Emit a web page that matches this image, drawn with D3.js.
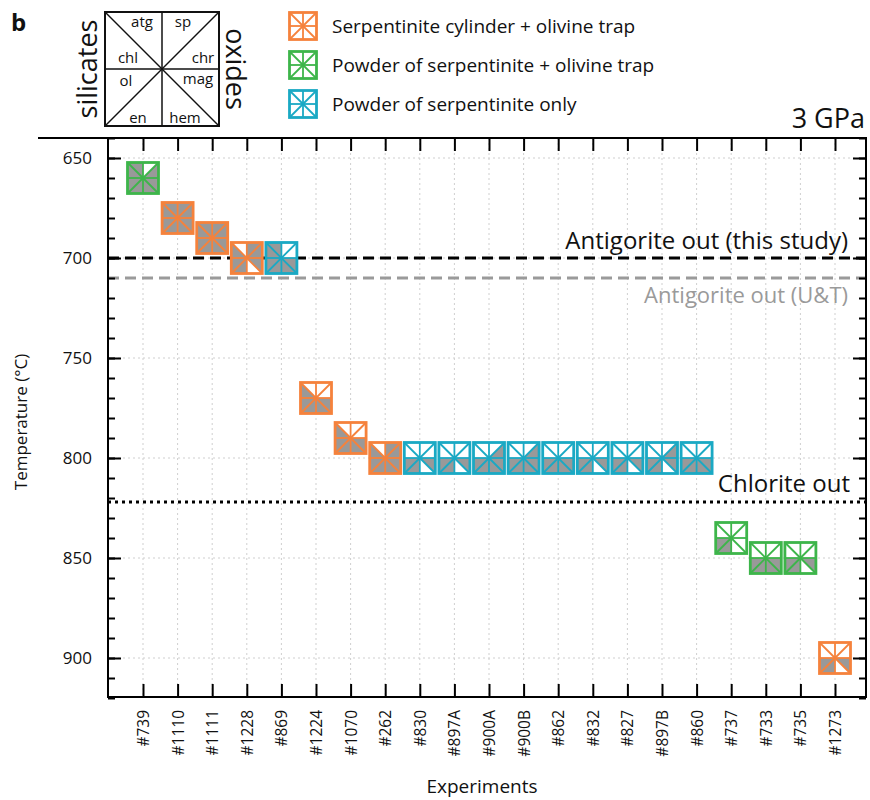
<!DOCTYPE html>
<html>
<head>
<meta charset="utf-8">
<script src="https://cdn.jsdelivr.net/npm/d3@7"></script>
<style>
  body { margin: 0; background: #fff; }
  text { font-family: "Open Sans", "DejaVu Sans", sans-serif; }
</style>
</head>
<body>
<script>
// Experiments at 3 GPa: temperature, setup and phases observed (grey sectors)

const experiments = ["#739", "#1110", "#1111", "#1228", "#869", "#1224", "#1070", "#262",
  "#830", "#897A", "#900A", "#900B", "#862", "#832", "#827", "#897B", "#860",
  "#737", "#733", "#735", "#1273"];
const temperatures = [660, 680, 690, 700, 700, 770, 790, 800,
  800, 800, 800, 800, 800, 800, 800, 800, 800,
  840, 850, 850, 900];
const setups = ["powder_trap", "cylinder", "cylinder", "cylinder", "powder", "cylinder", "cylinder", "cylinder",
  "powder", "powder", "powder", "powder", "powder", "powder", "powder", "powder", "powder",
  "powder_trap", "powder_trap", "powder_trap", "cylinder"];
const phases = [
  "atg chl chr mag hem en ol",
  "atg sp chr mag hem en ol chl",
  "atg sp chr mag hem en ol chl",
  "sp chr mag en ol chl",
  "atg chl mag hem en ol",
  "chl mag hem en ol",
  "chl mag hem en ol",
  "sp chr mag hem en ol chl",
  "mag en ol",
  "mag en ol",
  "chr mag hem en ol",
  "chr mag hem en ol",
  "mag hem en ol",
  "mag en ol",
  "mag en ol",
  "chr mag en ol",
  "mag hem en ol",
  "en ol",
  "mag hem en ol",
  "mag en ol",
  "mag en ol"
];
const yTicks = [650, 700, 750, 800, 850, 900];
const refLines = [
  { t: 700, label: "Antigorite out (this study)", kind: "dash" },
  { t: 710, label: "Antigorite out (U&T)", kind: "greydash" },
  { t: 822, label: "Chlorite out", kind: "dot" }
];
const legendItems = [
  { key: "cylinder", label: "Serpentinite cylinder + olivine trap" },
  { key: "powder_trap", label: "Powder of serpentinite +  olivine trap" },
  { key: "powder", label: "Powder of serpentinite only" }
];

const colors = { cylinder: "#f5823c", powder_trap: "#3db54a", powder: "#1aa9c4" };
const grey = "#999999";

const W = 870, H = 800;
const pLeft = 108, pRight = 866, pTop = 138, pBottom = 697;

const svg = d3.select("body").append("svg").attr("width", W).attr("height", H);

const x = d3.scalePoint().domain(experiments).range([143, 835]);
const y = d3.scaleLinear().domain([640, 920]).range([pTop, pBottom + 1]);

// grid
const grid = svg.append("g").attr("stroke", "#cfcfcf").attr("stroke-width", 1).attr("stroke-dasharray", "2,3");
grid.selectAll("line.v").data(experiments).enter().append("line")
  .attr("x1", d => x(d)).attr("x2", d => x(d)).attr("y1", pTop).attr("y2", pBottom);
grid.selectAll("line.h").data(yTicks).enter().append("line")
  .attr("x1", pLeft).attr("x2", pRight).attr("y1", d => y(d)).attr("y2", d => y(d));

// reference lines
refLines.forEach(r => {
  const ln = svg.append("line").attr("x1", pLeft).attr("x2", pRight)
    .attr("y1", y(r.t)).attr("y2", y(r.t));
  if (r.kind === "dash") ln.attr("stroke", "#000").attr("stroke-width", 3).attr("stroke-dasharray", "11,6");
  if (r.kind === "greydash") ln.attr("stroke", "#9a9a9a").attr("stroke-width", 3).attr("stroke-dasharray", "11,6");
  if (r.kind === "dot") ln.attr("stroke", "#000").attr("stroke-width", 3).attr("stroke-dasharray", "3,4");
});
svg.append("text").attr("x", 848).attr("y", y(700) - 9).attr("text-anchor", "end")
  .attr("font-size", 24).attr("fill", "#111").text(refLines[0].label);
svg.append("text").attr("x", 848).attr("y", y(710) + 25).attr("text-anchor", "end")
  .attr("font-size", 22).attr("fill", "#9a9a9a").text(refLines[1].label);
svg.append("text").attr("x", 850).attr("y", y(822) - 10).attr("text-anchor", "end")
  .attr("font-size", 24).attr("fill", "#111").text(refLines[2].label);

// marker drawing
const sectorOrder = ["atg", "sp", "chr", "mag", "hem", "en", "ol", "chl"];
function sectorPts(h) {
  const tl = [-h, -h], tm = [0, -h], tr = [h, -h], rm = [h, 0], br = [h, h], bm = [0, h], bl = [-h, h], lm = [-h, 0], c = [0, 0];
  return {
    atg: [tl, tm, c], sp: [tm, tr, c], chr: [tr, rm, c], mag: [rm, br, c],
    hem: [br, bm, c], en: [bm, bl, c], ol: [bl, lm, c], chl: [lm, tl, c]
  };
}
function drawMarker(g, h, color, present) {
  const pts = sectorPts(h);
  g.append("rect").attr("x", -h).attr("y", -h).attr("width", 2 * h).attr("height", 2 * h).attr("fill", "#fff");
  sectorOrder.forEach(s => {
    if (present.includes(s)) {
      g.append("path").attr("d", "M" + pts[s].map(p => p.join(",")).join("L") + "Z").attr("fill", grey);
    }
  });
  const lines = [[-h, -h, h, h], [h, -h, -h, h], [0, -h, 0, h], [-h, 0, h, 0]];
  lines.forEach(l => g.append("line").attr("x1", l[0]).attr("y1", l[1]).attr("x2", l[2]).attr("y2", l[3])
    .attr("stroke", color).attr("stroke-width", 1.8));
  g.append("rect").attr("x", -h).attr("y", -h).attr("width", 2 * h).attr("height", 2 * h)
    .attr("fill", "none").attr("stroke", color).attr("stroke-width", 2.8);
}

const markers = svg.selectAll("g.marker").data(experiments).enter().append("g")
  .attr("class", "marker")
  .attr("transform", (d, i) => `translate(${x(d)},${y(temperatures[i])})`);
markers.each(function (d, i) {
  drawMarker(d3.select(this), 15.5, colors[setups[i]], phases[i].split(" "));
});

// axes
const minor = d3.range(640, 921, 10);
svg.append("g").attr("transform", `translate(${pLeft},0)`)
  .call(d3.axisLeft(y).tickValues(minor).tickSize(-7).tickFormat(""))
  .call(g => g.select(".domain").remove());
svg.append("g").attr("transform", `translate(${pLeft},0)`)
  .call(d3.axisLeft(y).tickValues(yTicks).tickSize(-13).tickPadding(16))
  .call(g => g.select(".domain").remove())
  .call(g => g.selectAll("text").attr("font-size", 17).attr("fill", "#111"));
svg.append("g").attr("transform", `translate(${pRight},0)`)
  .call(d3.axisRight(y).tickValues(minor).tickSize(-7).tickFormat(""))
  .call(g => g.select(".domain").remove());
svg.append("g").attr("transform", `translate(${pRight},0)`)
  .call(d3.axisRight(y).tickValues(yTicks).tickSize(-13).tickFormat(""))
  .call(g => g.select(".domain").remove());
svg.append("g").attr("transform", `translate(0,${pTop})`)
  .call(d3.axisTop(x).tickSize(-13).tickFormat(""))
  .call(g => g.select(".domain").remove());
const xAxis = svg.append("g").attr("transform", `translate(0,${pBottom})`)
  .call(d3.axisBottom(x).tickSize(-13).tickPadding(0))
  .call(g => g.select(".domain").remove());
xAxis.selectAll("text")
  .attr("transform", "rotate(-90)")
  .attr("text-anchor", "end").attr("dy", "0.35em")
  .attr("x", -13).attr("y", 0)
  .attr("font-size", 15.5).attr("fill", "#111");
svg.selectAll(".tick line").attr("stroke", "#000").attr("stroke-width", 2);

// frame
const frame = svg.append("g").attr("stroke", "#000").attr("stroke-width", 2).attr("fill", "none");
frame.append("line").attr("x1", 38).attr("x2", pRight + 1).attr("y1", pTop).attr("y2", pTop);
frame.append("line").attr("x1", pLeft).attr("x2", pRight + 1).attr("y1", pBottom).attr("y2", pBottom);
frame.append("line").attr("x1", pLeft).attr("x2", pLeft).attr("y1", pTop).attr("y2", pBottom + 1);
frame.append("line").attr("x1", pRight).attr("x2", pRight).attr("y1", pTop).attr("y2", pBottom + 1);

// axis titles
svg.append("text").attr("transform", `translate(27,422) rotate(-90)`)
  .attr("text-anchor", "middle").attr("font-size", 17).attr("fill", "#111").text("Temperature (°C)");
svg.append("text").attr("x", 482).attr("y", 793)
  .attr("text-anchor", "middle").attr("font-size", 19).attr("fill", "#111").text("Experiments");
svg.append("text").attr("x", 865).attr("y", 128).attr("text-anchor", "end")
  .attr("font-size", 27).attr("fill", "#111").text("3 GPa");
svg.append("text").attr("x", 11).attr("y", 31).attr("font-size", 24).attr("font-weight", "bold")
  .attr("fill", "#111").text("b");

// phase key
const key = svg.append("g").attr("transform", "translate(162,69)");
const kh = 57;
key.append("rect").attr("x", -kh).attr("y", -kh).attr("width", 2 * kh).attr("height", 2 * kh)
  .attr("fill", "none").attr("stroke", "#111").attr("stroke-width", 2);
[[-kh, -kh, kh, kh], [kh, -kh, -kh, kh], [0, -kh, 0, kh], [-kh, 0, kh, 0]].forEach(l =>
  key.append("line").attr("x1", l[0]).attr("y1", l[1]).attr("x2", l[2]).attr("y2", l[3])
    .attr("stroke", "#111").attr("stroke-width", 1.5));
const keyLabels = [
  { t: "atg", x: -20, y: -42 }, { t: "sp", x: 21, y: -42 },
  { t: "chl", x: -34, y: -6 }, { t: "chr", x: 41, y: -6 },
  { t: "ol", x: -36, y: 17 }, { t: "mag", x: 36, y: 15 },
  { t: "en", x: -24, y: 54 }, { t: "hem", x: 23, y: 54 }
];
key.selectAll("text.k").data(keyLabels).enter().append("text")
  .attr("x", d => d.x).attr("y", d => d.y).attr("text-anchor", "middle")
  .attr("font-size", 15).attr("fill", "#111").text(d => d.t);
svg.append("text").attr("transform", "translate(97,69) rotate(-90)").attr("text-anchor", "middle")
  .attr("font-size", 27).attr("fill", "#111").text("silicates");
svg.append("text").attr("transform", "translate(226,69) rotate(90)").attr("text-anchor", "middle")
  .attr("font-size", 27).attr("fill", "#111").text("oxides");

// legend
const legend = svg.selectAll("g.legend").data(legendItems).enter().append("g")
  .attr("class", "legend")
  .attr("transform", (d, i) => `translate(303,${26 + i * 39})`);
legend.each(function (d) {
  drawMarker(d3.select(this), 13.5, colors[d.key], []);
});
legend.append("text").attr("x", 29).attr("y", 7).attr("font-size", 19).attr("fill", "#111")
  .text(d => d.label);
</script>
</body>
</html>
